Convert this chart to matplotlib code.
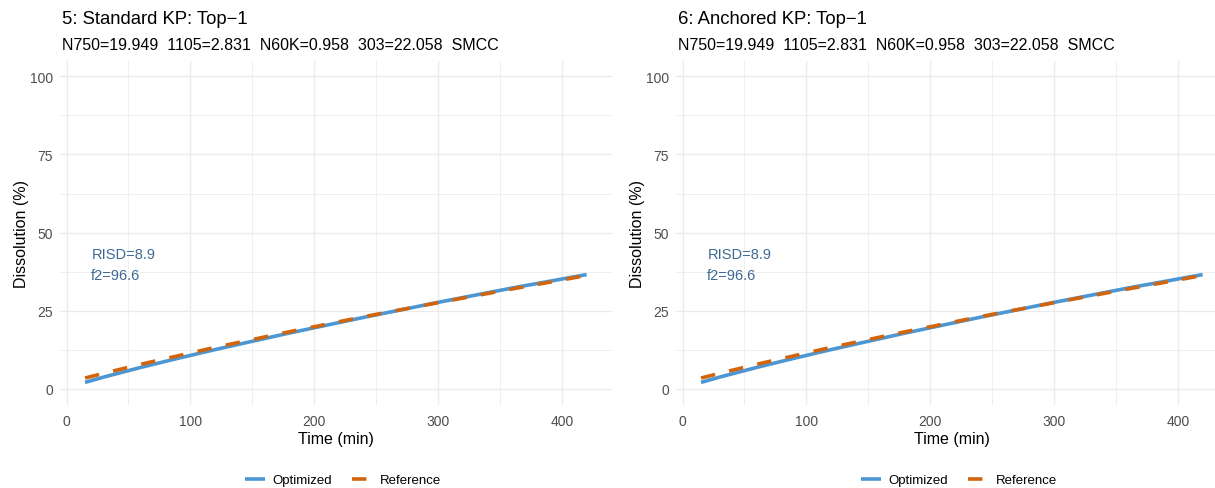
import matplotlib
matplotlib.use("Agg")
import matplotlib.pyplot as plt
from matplotlib.ticker import MultipleLocator

plt.rcParams["font.family"] = ["Liberation Sans", "DejaVu Sans"]

# Dissolution profiles (time in minutes, % dissolved)
time_min = [15, 30, 60, 90, 120, 180, 240, 300, 360, 420]
optimized = [2.1, 3.8, 6.9, 9.8, 12.6, 17.9, 22.9, 27.7, 32.3, 36.6]
reference = [3.5, 5.0, 7.9, 10.6, 13.3, 18.3, 23.1, 27.6, 32.0, 36.3]

panel_titles = ["5: Standard KP: Top\u22121", "6: Anchored KP: Top\u22121"]
subtitle = "N750=19.949  1105=2.831  N60K=0.958  303=22.058  SMCC"
risd = 8.9
f2 = 96.6

x_ticks = [0, 100, 200, 300, 400]
y_ticks = [0, 25, 50, 75, 100]

BLUE = "#4C97D3"
ORANGE = "#D2640B"
NOTE = "#3D6994"
GRID = "#EBEBEB"
TICK = "#4D4D4D"

W, H = 1215, 489
fig = plt.figure(figsize=(W / 100, H / 100), dpi=100)

panel_left_px = [60, 676]
panel_w_px = 551.7
panel_top_px, panel_bot_px = 61.7, 405.6

for i, title in enumerate(panel_titles):
    lp = panel_left_px[i]
    ax = fig.add_axes([lp / W, 1 - panel_bot_px / H,
                       panel_w_px / W, (panel_bot_px - panel_top_px) / H])
    ax.set_xlim(-5.25, 440.25)
    ax.set_ylim(-5, 105)
    for s in ax.spines.values():
        s.set_visible(False)
    ax.xaxis.set_minor_locator(MultipleLocator(50))
    ax.yaxis.set_minor_locator(MultipleLocator(12.5))
    ax.set_xticks(x_ticks)
    ax.set_yticks(y_ticks)
    ax.grid(which="major", color=GRID, linewidth=0.95)
    ax.grid(which="minor", color=GRID, linewidth=0.55)
    ax.set_axisbelow(True)
    ax.tick_params(which="both", length=0, labelsize=10, labelcolor=TICK)
    ax.tick_params(axis="y", pad=5)
    ax.tick_params(axis="x", pad=7)

    ax.plot(time_min, optimized, color=BLUE, linewidth=2.6,
            solid_capstyle="butt", label="Optimized")
    ax.plot(time_min, reference, color=ORANGE, linewidth=2.6,
            linestyle=(0, (4, 4)), dash_capstyle="butt", label="Reference")

    ax.text(20, 43.2, f"RISD={risd}", color=NOTE, fontsize=10.5,
            ha="left", va="center")
    ax.text(20, 36.5, f"f2={f2}", color=NOTE, fontsize=10.5,
            ha="left", va="center")

    ax.set_xlabel("Time (min)", fontsize=11.5, labelpad=2)
    ax.set_ylabel("Dissolution (%)", fontsize=11.5, labelpad=1)

    fig.text((lp + 2) / W, 1 - 20 / H, title, fontsize=13.3,
             ha="left", va="center")
    fig.text((lp + 2) / W, 1 - 45 / H, subtitle, fontsize=11.5,
             ha="left", va="center")

    ax.legend(loc="center",
              bbox_to_anchor=(0.5 + 7 / panel_w_px,
                              (panel_bot_px - 481) / (panel_bot_px - panel_top_px)),
              ncol=2, frameon=False, fontsize=9.5, handlelength=1.5,
              handletextpad=0.6, columnspacing=1.5)

fig.savefig("out.png", dpi=100, facecolor="white")
